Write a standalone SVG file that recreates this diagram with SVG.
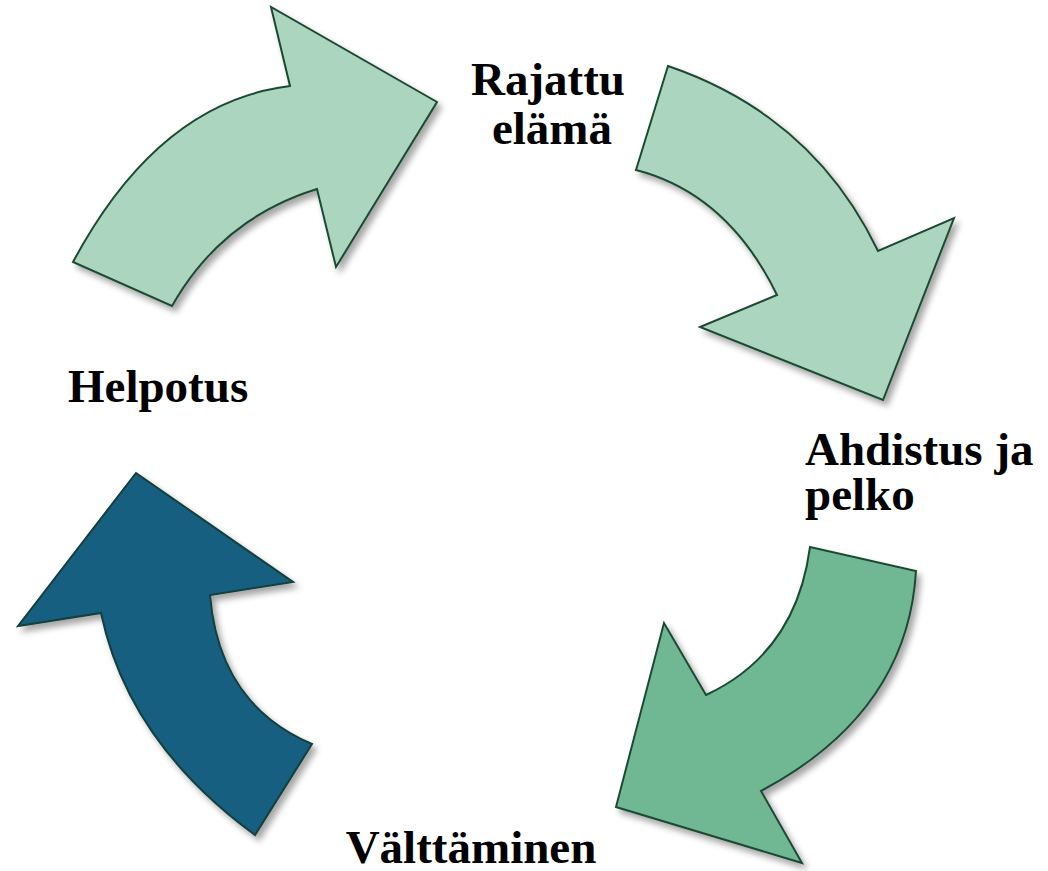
<svg xmlns="http://www.w3.org/2000/svg" width="1048" height="871" viewBox="0 0 1048 871">
  <defs>
    <filter id="shadow" x="-20%" y="-20%" width="140%" height="140%">
      <feDropShadow dx="4" dy="5" stdDeviation="3" flood-color="#000" flood-opacity="0.35"/>
    </filter>
    <style>
      .arrow { stroke: #1d4a33; stroke-width: 2; stroke-linejoin: miter; filter: url(#shadow); }
      .light { fill: #acd5c0; }
      .mid { fill: #6fb893; }
      .dark { fill: #165e80; stroke: #123f3a; }
      .label { font-family: "Liberation Serif", "Times New Roman", serif; font-weight: bold; font-size: 47px; fill: #000; }
    </style>
  </defs>
  <rect width="1048" height="871" fill="#fff"/>

  <g id="connectors">
    <!-- top-left arrow: Helpotus to Rajattu elämä -->
    <path id="arrow-1" class="arrow light" d="M73,262 Q158.5,102 290,86 L271,7 L437,102 L336,267 L317,189 Q221.5,218.5 172,306 Z"/>
    <!-- top-right arrow: Rajattu elämä to Ahdistus ja pelko -->
    <path id="arrow-2" class="arrow light" d="M668,66 Q813,115.5 878,251 L954,218 L883,400 L700,327 L777,295 Q727.5,193.5 636,170 Z"/>
    <!-- bottom-right arrow: Ahdistus ja pelko to Välttäminen -->
    <path id="arrow-3" class="arrow mid" d="M810,547 L916,571 Q907.5,713 761,791 L802,863 L616,807 L664,623 L706,695 Q796,653 810,547 Z"/>
    <!-- bottom-left arrow: Välttäminen to Helpotus -->
    <path id="arrow-4" class="arrow dark" d="M136,473 L293,582 L210,595 Q219,704.5 312,744 L255,835 Q128,742 101,613 L18,626 Z"/>
  </g>

  <g id="node-rajattu">
    <text class="label" x="548" y="95" text-anchor="middle">Rajattu</text>
    <text class="label" x="552" y="144" text-anchor="middle">elämä</text>
  </g>
  <g id="node-ahdistus">
    <text class="label" x="805" y="465">Ahdistus ja</text>
    <text class="label" x="805" y="510">pelko</text>
  </g>
  <g id="node-valttaminen">
    <text class="label" x="471" y="863" text-anchor="middle">Välttäminen</text>
  </g>
  <g id="node-helpotus">
    <text class="label" x="68" y="402">Helpotus</text>
  </g>
</svg>
